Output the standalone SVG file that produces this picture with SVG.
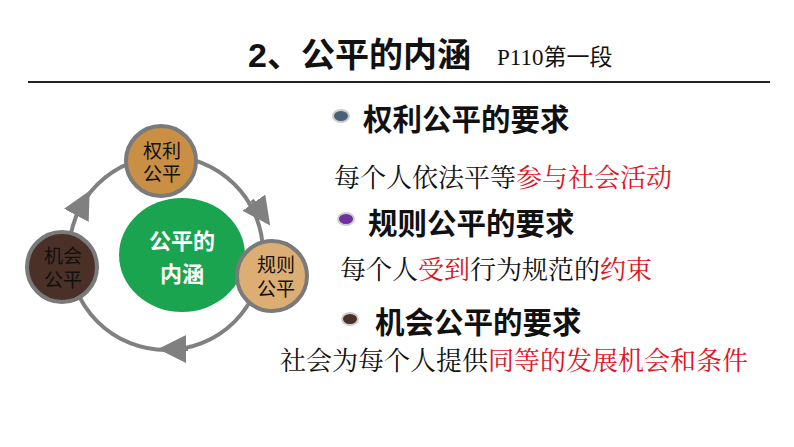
<svg xmlns="http://www.w3.org/2000/svg" width="794" height="447" viewBox="0 0 794 447">
<style>
.h{font-family:"Liberation Sans","Noto Sans CJK SC",sans-serif;font-weight:bold;font-size:29.5px;fill:#111}
.t{font-family:"Noto Serif CJK SC","Liberation Serif","Noto Sans CJK SC",serif;font-size:26px;fill:#111}
.r{fill:#e0141e}
.n{font-family:"Liberation Serif","Noto Sans CJK SC",serif;font-size:19px;fill:#111;text-anchor:middle}
.node{stroke:#7a7a7a;stroke-width:4}
</style>
<defs>
<marker id="a" viewBox="0 0 10 10" refX="5" refY="5" markerWidth="7" markerHeight="7" orient="auto"><path d="M0,0L10,5L0,10z" fill="#808080"/></marker>
</defs>
<rect width="794" height="447" fill="#fff"/>
<g id="title">
<text x="248" y="67" font-family="Liberation Sans,Noto Sans CJK SC,sans-serif" font-weight="bold" font-size="34" fill="#111">2、公平的内涵</text>
<text x="497" y="65" font-family="Liberation Serif,Noto Sans CJK SC,serif" font-size="23" fill="#111">P110第一段</text>
<line x1="28" y1="82" x2="770" y2="82" stroke="#222" stroke-width="2"/>
</g>
<g id="connectors" fill="none" stroke="#808080" stroke-width="4">
<circle cx="166" cy="253" r="97"/>
<path d="M252,200 L262,214" marker-end="url(#a)"/>
<path d="M188,349 L172,349" marker-end="url(#a)"/>
<path d="M76,216 L83,203" marker-end="url(#a)"/>
</g>
<g id="center"><ellipse cx="182" cy="255" rx="63" ry="57" fill="#1aa450"/>
<text x="182" y="249" text-anchor="middle" font-family="Liberation Sans,Noto Sans CJK SC,sans-serif" font-weight="bold" font-size="22" fill="#fff">公平的</text>
<text x="182" y="282" text-anchor="middle" font-family="Liberation Sans,Noto Sans CJK SC,sans-serif" font-weight="bold" font-size="22" fill="#fff">内涵</text></g>
<g id="n1"><circle class="node" cx="161" cy="161" r="35" fill="#c98f45"/><text class="n" x="162" y="158">权利</text><text class="n" x="162" y="181">公平</text></g>
<g id="n2"><circle class="node" cx="272" cy="276" r="35" fill="#dcae74"/><text class="n" x="276" y="272">规则</text><text class="n" x="276" y="296">公平</text></g>
<g id="n3"><circle class="node" cx="62" cy="267" r="35" fill="#4a3026"/><text class="n" x="63" y="263">机会</text><text class="n" x="63" y="287">公平</text></g>
<g id="b1"><ellipse cx="341" cy="116" rx="8" ry="6" fill="#4a6078" stroke="#ccc" stroke-width="2"/><text class="h" x="363" y="130">权利公平的要求</text>
<text class="t" x="334" y="187">每个人依法平等<tspan class="r">参与社会活动</tspan></text></g>
<g id="b2"><ellipse cx="346" cy="219" rx="8" ry="6" fill="#7030a0" stroke="#ccc" stroke-width="2"/><text class="h" x="368" y="234">规则公平的要求</text>
<text class="t" x="340" y="279">每个人<tspan class="r">受到</tspan>行为规范的<tspan class="r">约束</tspan></text></g>
<g id="b3"><ellipse cx="350" cy="319" rx="8" ry="6" fill="#4a3026" stroke="#ccc" stroke-width="2"/><text class="h" x="375" y="333">机会公平的要求</text>
<text class="t" x="280" y="370" font-size="27.5">社会为每个人提供<tspan class="r">同等的发展机会和条件</tspan></text></g>
</svg>
